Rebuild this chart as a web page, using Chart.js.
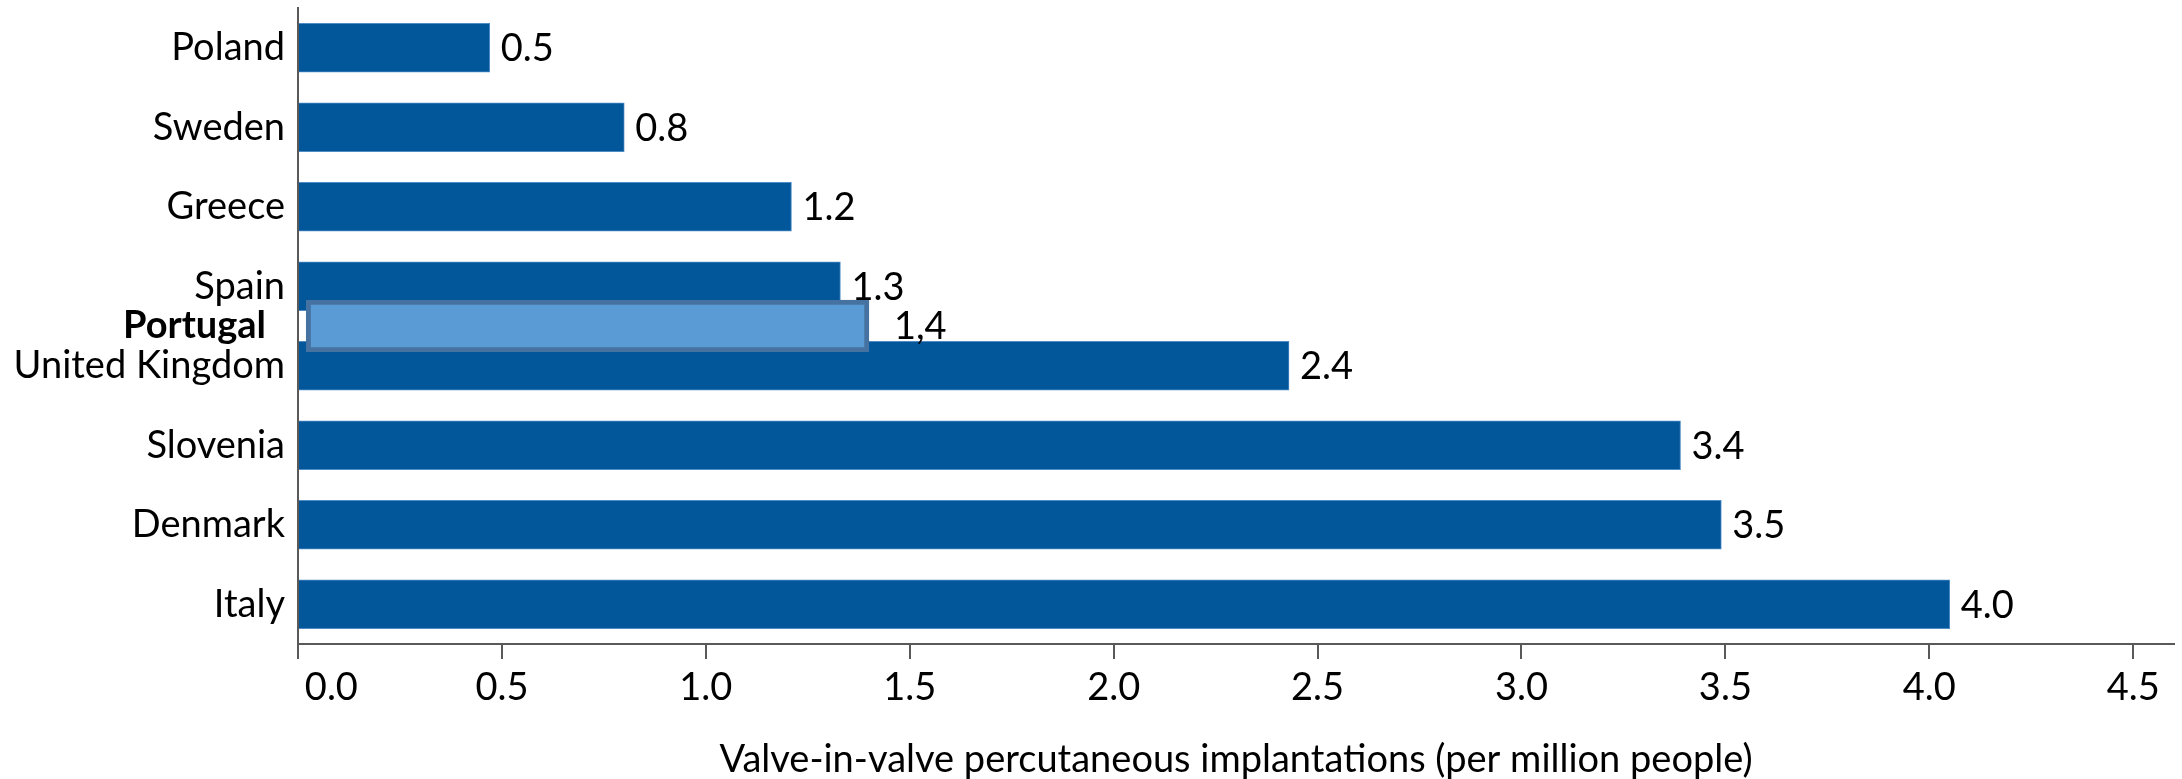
<!DOCTYPE html>
<html lang="en">
<head>
  <meta charset="UTF-8" />
  <title>Valve-in-valve percutaneous implantations</title>
  <script src="https://cdn.jsdelivr.net/npm/chart.js"></script>
  <style>
    html, body { margin: 0; padding: 0; background: #fff; }
    #wrap { width: 2182px; height: 779px; }
  </style>
</head>
<body>
  <div id="wrap"><canvas id="vivChart"></canvas></div>

  <script>
    // data
    const countries = ['Poland', 'Sweden', 'Greece', 'Spain', 'United Kingdom', 'Slovenia', 'Denmark', 'Italy'];
    const values = [0.47, 0.80, 1.21, 1.33, 2.43, 3.39, 3.49, 4.05];
    const valueLabels = ['0.5', '0.8', '1.2', '1.3', '2.4', '3.4', '3.5', '4.0'];

    // the pasted-in highlight row, sits between Spain and United Kingdom
    // (its box starts a hair right of zero in the original)
    const highlightCountry = 'Portugal';
    const highlightAfter = 'Spain';
    const highlightRange = [0.02, 1.40];
    const highlightLabel = '1,4';

    const xTicks = [0, 0.5, 1.0, 1.5, 2.0, 2.5, 3.0, 3.5, 4.0, 4.5];
    const xTitle = 'Valve-in-valve percutaneous implantations (per million people)';

    const FONT = 'Lato, "Open Sans", sans-serif';
    const FSIZE = 38;
    const DARK = '#02569A';

    // half-row slots: blank, country, blank, country ... highlight takes the blank after Spain
    const slots = [''];
    countries.forEach((c, i) => {
      slots.push(c);
      if (i < countries.length - 1) slots.push(c === highlightAfter ? highlightCountry : '');
    });
    slots.push('');

    const mainData = slots.map(s => countries.includes(s) ? values[countries.indexOf(s)] : null);
    const mainText = slots.map(s => countries.includes(s) ? valueLabels[countries.indexOf(s)] : null);
    const hiData = slots.map(s => s === highlightCountry ? highlightRange : null);
    const hiText = slots.map(s => s === highlightCountry ? highlightLabel : null);

    const valueLabelPlugin = {
      id: 'valueLabels',
      afterDatasetsDraw(chart) {
        const ctx = chart.ctx;
        ctx.save();
        ctx.font = FSIZE + 'px ' + FONT;
        ctx.fillStyle = '#000';
        ctx.textBaseline = 'middle';
        ctx.textAlign = 'left';
        [mainText, hiText].forEach((texts, di) => {
          const meta = chart.getDatasetMeta(di);
          meta.data.forEach((bar, i) => {
            if (!texts[i]) return;
            const gap = di === 1 ? 25 : 11;
            ctx.fillText(texts[i], bar.x + gap, bar.y + 1);
          });
        });
        ctx.restore();
      }
    };

    new Chart(document.getElementById('vivChart'), {
      type: 'bar',
      data: {
        labels: slots,
        datasets: [
          {
            data: mainData,
            backgroundColor: DARK,
            borderColor: '#4f8cc6',
            borderWidth: 1,
            barThickness: 49,
            grouped: false,
            order: 1
          },
          {
            data: hiData,
            backgroundColor: '#5B9BD5',
            borderColor: '#4572A0',
            borderWidth: 5,
            borderSkipped: false,
            barThickness: 52,
            grouped: false,
            order: 0
          }
        ]
      },
      plugins: [valueLabelPlugin],
      options: {
        indexAxis: 'y',
        responsive: true,
        maintainAspectRatio: false,
        animation: false,
        layout: { padding: { top: 8, right: 8, left: 0, bottom: 0 } },
        plugins: {
          legend: { display: false },
          tooltip: { enabled: false }
        },
        scales: {
          x: {
            type: 'linear',
            min: 0,
            max: 4.6,
            afterBuildTicks: scale => { scale.ticks = xTicks.map(v => ({ value: v })); },
            afterFit: scale => { scale.height = 135; },
            ticks: {
              color: '#000',
              font: { family: FONT, size: FSIZE },
              padding: 6,
              maxRotation: 0,
              callback: v => (v === 0 ? '\u2002\u2002\u2002 ' : '') + v.toFixed(1)
            },
            grid: {
              drawOnChartArea: false,
              drawTicks: true,
              tickLength: 15,
              color: '#595959',
              lineWidth: 2
            },
            border: { display: true, color: '#595959', width: 2 },
            title: {
              display: true,
              text: xTitle,
              color: '#000',
              font: { family: FONT, size: FSIZE, lineHeight: 1.0 },
              padding: { top: 0, bottom: 0 }
            }
          },
          y: {
            type: 'category',
            offset: false,
            afterFit: scale => {
              scale.width = 298;
              scale.paddingTop = 0;
              scale.paddingBottom = 0;
            },
            ticks: {
              autoSkip: false,
              color: '#000',
              padding: 13,
              font: ctx => ({
                family: FONT,
                size: FSIZE,
                weight: ctx.tick && ctx.tick.label.trim() === highlightCountry ? 'bold' : 'normal'
              }),
              callback: function (v) {
                const l = this.getLabelForValue(v);
                return l === highlightCountry ? l + '\u2002' : l;
              }
            },
            grid: { display: false, drawTicks: false, tickLength: 0 },
            border: { display: true, color: '#595959', width: 2 }
          }
        }
      }
    });
  </script>
</body>
</html>
